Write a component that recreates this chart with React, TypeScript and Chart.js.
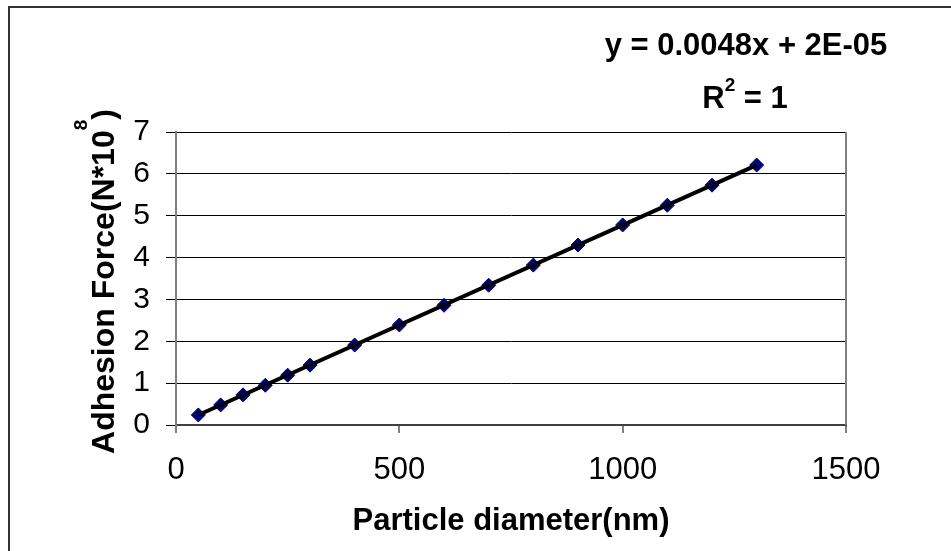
import React, { useEffect, useRef } from "react";
import { Chart, registerables } from "chart.js";

Chart.register(...registerables);

// ---- data ----
const diameters = [50, 100, 150, 200, 250, 300, 400, 500, 600, 700, 800, 900, 1000, 1100, 1200, 1300];
const forces = [0.24, 0.48, 0.72, 0.95, 1.19, 1.43, 1.91, 2.39, 2.86, 3.34, 3.82, 4.3, 4.78, 5.25, 5.73, 6.21];
const trendX = [50, 1300];
const trendY = [0.24, 6.21];
const xTickValues = [0, 500, 1000, 1500];
const yTickValues = [0, 1, 2, 3, 4, 5, 6, 7];
const equationText = "y = 0.0048x + 2E-05";
const rSquaredParts = ["R", "2", " = 1"];
const xTitleText = "Particle diameter(nm)";
const yTitleParts = ["Adhesion Force(N*10", "8", ")"];

const FONT = "'Liberation Sans', Arial, sans-serif";

const decorPlugin = {
  id: "decor",
  beforeDraw(chart: any) {
    const ctx = chart.ctx;
    ctx.save();
    ctx.fillStyle = "#ffffff";
    ctx.fillRect(0, 0, chart.width, chart.height);
    ctx.strokeStyle = "#333333";
    ctx.lineWidth = 2;
    ctx.beginPath();
    ctx.moveTo(9, chart.height);
    ctx.lineTo(9, 7);
    ctx.lineTo(chart.width, 7);
    ctx.stroke();
    ctx.restore();
  },
  afterDraw(chart: any) {
    const ctx = chart.ctx;
    const area = chart.chartArea;
    ctx.save();
    // right plot-area border
    ctx.strokeStyle = "#808080";
    ctx.lineWidth = 2;
    ctx.beginPath();
    ctx.moveTo(area.right, area.top);
    ctx.lineTo(area.right, area.bottom);
    ctx.stroke();

    ctx.fillStyle = "#000000";
    ctx.textBaseline = "alphabetic";

    // equation
    ctx.font = `bold 31px ${FONT}`;
    ctx.textAlign = "center";
    ctx.fillText(equationText, 746, 55);

    // R^2 line
    ctx.textAlign = "left";
    const mainF = `bold 31px ${FONT}`;
    const supF = `bold 19px ${FONT}`;
    ctx.font = mainF;
    const wR = ctx.measureText(rSquaredParts[0]).width;
    const wRest = ctx.measureText(rSquaredParts[2]).width;
    ctx.font = supF;
    const wSup = ctx.measureText(rSquaredParts[1]).width;
    let rx = 745 - (wR + wSup + wRest) / 2;
    ctx.font = mainF;
    ctx.fillText(rSquaredParts[0], rx, 108);
    rx += wR;
    ctx.font = supF;
    ctx.fillText(rSquaredParts[1], rx, 91);
    rx += wSup;
    ctx.font = mainF;
    ctx.fillText(rSquaredParts[2], rx, 108);

    // x title
    ctx.font = `bold 31px ${FONT}`;
    ctx.textAlign = "center";
    ctx.fillText(xTitleText, (area.left + area.right) / 2, 530);

    // y title (rotated, with superscript)
    ctx.save();
    ctx.translate(114, (area.top + area.bottom) / 2 + 3);
    ctx.rotate(-Math.PI / 2);
    ctx.textAlign = "left";
    const yMain = `bold 32px ${FONT}`;
    const ySup = `bold 19px ${FONT}`;
    ctx.font = yMain;
    const w1 = ctx.measureText(yTitleParts[0]).width;
    const w3 = ctx.measureText(yTitleParts[2]).width;
    ctx.font = ySup;
    const w2 = ctx.measureText(yTitleParts[1]).width;
    let tx = -(w1 + w2 + w3) / 2;
    ctx.font = yMain;
    ctx.fillText(yTitleParts[0], tx, 0);
    tx += w1;
    ctx.font = ySup;
    ctx.fillText(yTitleParts[1], tx, -27);
    tx += w2;
    ctx.font = yMain;
    ctx.fillText(yTitleParts[2], tx, 0);
    ctx.restore();

    ctx.restore();
  },
};

export default function App() {
  const canvasRef = useRef<HTMLCanvasElement | null>(null);

  useEffect(() => {
    const canvas = canvasRef.current;
    if (!canvas) return;
    const chart = new Chart(canvas, {
      type: "scatter",
      data: {
        datasets: [
          {
            label: "Trendline",
            data: trendX.map((x, i) => ({ x, y: trendY[i] })),
            showLine: true,
            borderColor: "#000000",
            borderWidth: 4,
            pointRadius: 0,
            fill: false,
          },
          {
            label: "Adhesion force",
            data: diameters.map((x, i) => ({ x, y: forces[i] })),
            pointStyle: "rectRot",
            pointRadius: 7,
            pointBackgroundColor: "#000080",
            pointBorderColor: "#000080",
            pointBorderWidth: 1,
            showLine: false,
          },
        ],
      },
      options: {
        responsive: false,
        animation: false,
        events: [],
        layout: { padding: { top: 132, right: 105, left: 0, bottom: 0 } },
        plugins: {
          legend: { display: false },
          tooltip: { enabled: false },
          title: { display: false },
        },
        scales: {
          x: {
            type: "linear",
            min: 0,
            max: 1500,
            afterFit: (scale: any) => {
              scale.height = 126;
            },
            afterBuildTicks: (scale: any) => {
              scale.ticks = xTickValues.map((v) => ({ value: v }));
            },
            ticks: {
              font: { family: FONT, size: 31 },
              color: "#000000",
              padding: 19,
              maxRotation: 0,
              callback: (v: any) => String(v),
            },
            grid: {
              drawOnChartArea: false,
              color: "#808080",
              lineWidth: 2,
              tickLength: 8,
            },
            border: { color: "#404040", width: 2 },
          },
          y: {
            type: "linear",
            min: 0,
            max: 7,
            afterFit: (scale: any) => {
              scale.width = 176;
            },
            afterBuildTicks: (scale: any) => {
              scale.ticks = yTickValues.map((v) => ({ value: v }));
            },
            ticks: {
              font: { family: FONT, size: 30 },
              color: "#000000",
              padding: 16,
              callback: (v: any) => String(v),
            },
            grid: {
              color: "#000000",
              lineWidth: 1,
              tickLength: 10,
            },
            border: { color: "#808080", width: 2 },
          },
        },
      },
      plugins: [decorPlugin],
    });
    return () => chart.destroy();
  }, []);

  return (
    <div style={{ position: "fixed", left: 0, top: 0, width: 951, height: 551, background: "#fff" }}>
      <canvas ref={canvasRef} width={951} height={551} style={{ display: "block" }} />
    </div>
  );
}
